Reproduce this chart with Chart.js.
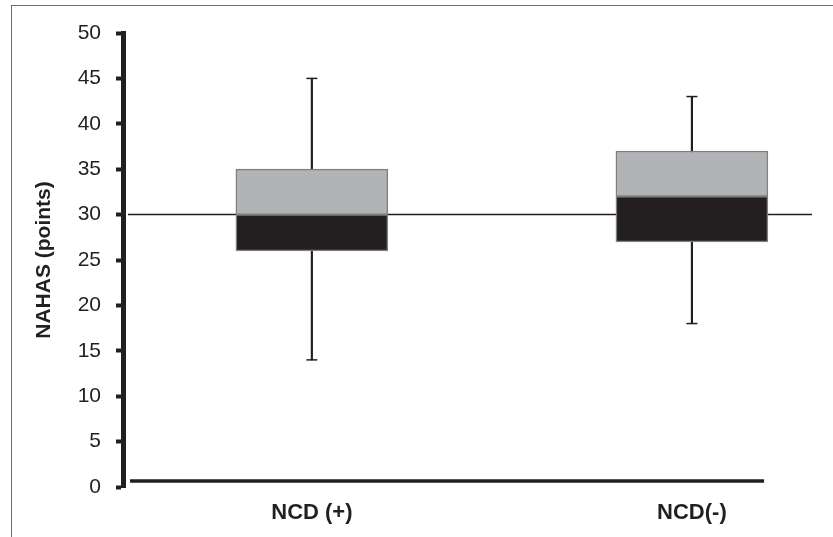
<!DOCTYPE html>
<html>
<head>
<meta charset="utf-8">
<script src="https://cdn.jsdelivr.net/npm/chart.js@4.4.1/dist/chart.umd.min.js"></script>
<style>
  html, body { margin: 0; padding: 0; background: #fff; }
  #wrap { position: relative; width: 833px; height: 537px; }
  #frame { position: absolute; left: 11px; top: 5px; right: 0; bottom: 0;
           border-top: 1.5px solid #6d6d6d; border-left: 1.5px solid #6d6d6d; pointer-events: none; }
</style>
</head>
<body>
<div id="wrap">
  <canvas id="nahasChart" width="833" height="537"></canvas>
  <div id="frame"></div>
</div>
<script>
// values
const groups = ['NCD (+)', 'NCD(-)'];
const groupPos = [1, 2];
const minVals = [14, 18];
const q1Vals = [26, 27];
const medianVals = [30, 32];
const q3Vals = [35, 37];
const maxVals = [45, 43];
const yTicks = [0, 5, 10, 15, 20, 25, 30, 35, 40, 45, 50];
const referenceValue = 30;

const ink = '#231f20';
const boxEdge = '#7f7f7f';

const toPoints = (lo, hi) => groupPos.map((x, i) => ({ x: x, y: [lo[i], hi[i]] }));

// horizontal reference line and the short x axis line
const extraLines = {
  id: 'extraLines',
  beforeDatasetsDraw(chart) {
    const { ctx, chartArea, scales } = chart;
    const y30 = scales.y.getPixelForValue(referenceValue);
    const y0 = scales.y.getPixelForValue(0);
    ctx.save();
    ctx.strokeStyle = ink;
    ctx.lineWidth = 1.5;
    ctx.beginPath();
    ctx.moveTo(chartArea.left + 5, y30);
    ctx.lineTo(chartArea.right, y30);
    ctx.stroke();
    ctx.lineWidth = 3.5;
    ctx.beginPath();
    ctx.moveTo(chartArea.left + 7, y0 - 6);
    ctx.lineTo(scales.x.getPixelForValue(2.19), y0 - 6);
    ctx.stroke();
    ctx.restore();
  }
};

new Chart(document.getElementById('nahasChart'), {
  type: 'bar',
  data: {
    datasets: [
      {
        label: 'whisker',
        data: toPoints(minVals, maxVals),
        backgroundColor: ink,
        barThickness: 1.5,
        grouped: false,
        order: 3
      },
      {
        type: 'scatter',
        label: 'caps',
        data: groupPos.flatMap((x, i) => [{ x: x, y: minVals[i] }, { x: x, y: maxVals[i] }]),
        pointStyle: 'line',
        pointRadius: 5.5,
        borderColor: ink,
        borderWidth: 1.5,
        order: 2
      },
      {
        label: 'lower',
        data: toPoints(q1Vals, medianVals),
        backgroundColor: ink,
        borderColor: boxEdge,
        borderWidth: 1.5,
        borderSkipped: false,
        barThickness: 152,
        grouped: false,
        order: 1
      },
      {
        label: 'upper',
        data: toPoints(medianVals, q3Vals),
        backgroundColor: '#b2b3b6',
        borderColor: boxEdge,
        borderWidth: 1.5,
        borderSkipped: false,
        barThickness: 152,
        grouped: false,
        order: 1
      }
    ]
  },
  options: {
    responsive: false,
    animation: false,
    layout: { padding: { top: 33, right: 21, bottom: 10, left: 0 } },
    plugins: { legend: { display: false }, tooltip: { enabled: false } },
    scales: {
      x: {
        type: 'linear',
        offset: false,
        min: 0.503,
        max: 2.316,
        border: { display: false },
        grid: { display: false, drawTicks: false },
        afterBuildTicks: (scale) => { scale.ticks = groupPos.map(v => ({ value: v })); },
        afterFit: (scale) => { scale.height = 40; },
        ticks: {
          padding: 13,
          color: ink,
          font: { family: 'Liberation Sans, Arial, sans-serif', size: 22, weight: 'bold' },
          callback: (v) => groups[groupPos.indexOf(v)]
        }
      },
      y: {
        min: 0,
        max: 50,
        afterBuildTicks: (scale) => { scale.ticks = yTicks.map(v => ({ value: v })); },
        afterFit: (scale) => { scale.width = 123; },
        border: { display: true, color: ink, width: 5 },
        grid: { drawOnChartArea: false, drawTicks: true, tickLength: 7, tickWidth: 4, tickColor: ink },
        ticks: {
          padding: 15,
          color: ink,
          font: { family: 'Liberation Sans, Arial, sans-serif', size: 21 }
        },
        title: {
          display: true,
          text: 'NAHAS (points)',
          color: ink,
          padding: { top: 32, bottom: 0 },
          font: { family: 'Liberation Sans, Arial, sans-serif', size: 21, weight: 'bold' }
        }
      }
    }
  },
  plugins: [extraLines]
});
</script>
</body>
</html>
